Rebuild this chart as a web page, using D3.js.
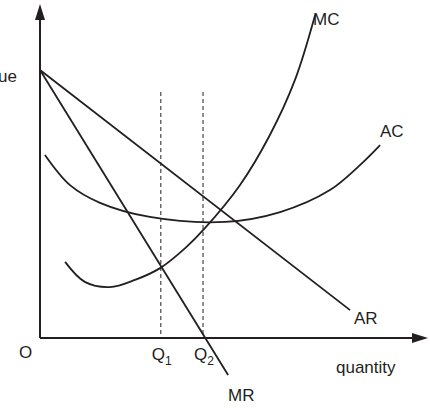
<!DOCTYPE html><html><head><script src="https://cdn.jsdelivr.net/npm/d3@7"></script>
<style>body{margin:0;background:#fff}text{font-family:Arial,"Liberation Sans",sans-serif;font-size:17px;fill:#231f20}</style></head><body>
<svg id="c" width="430" height="413"></svg>
<script>
const AR=[[0,81.7],[81.6,8.5]];
const MR=[[0,81.7],[49.5,-11.3]];
const MC=[[6.6,23.2],[11.8,17.1],[18.4,15.5],[25,17.7],[31.6,21.3],[38.2,27.4],[43.4,33.5],[52.6,46.6],[60.5,61.9],[67.1,78.7],[72.4,98.5]];
const AC=[[1.3,55.8],[7.9,46.6],[15.8,41.2],[28.9,36.9],[48.7,35.4],[63.2,38.4],[76.3,45.1],[84.2,52.7],[89.5,58.8]];
const Qs=[{x:31.8,label:"Q",sub:"1"},{x:42.9,label:"Q",sub:"2"}];
const qTop=75;
const svg=d3.select("#c");
const x=d3.scaleLinear().domain([0,100]).range([40,420]);
const y=d3.scaleLinear().domain([0,100]).range([338,10]);
const col="#231f20";
const lin=d3.line().x(d=>x(d[0])).y(d=>y(d[1]));
const cur=d3.line().x(d=>x(d[0])).y(d=>y(d[1])).curve(d3.curveCatmullRom);
// axes
svg.append("line").attr("x1",x(0)).attr("y1",y(0)).attr("x2",x(0)).attr("y2",18).attr("stroke",col).attr("stroke-width",2);
svg.append("line").attr("x1",x(0)).attr("y1",y(0)).attr("x2",414).attr("y2",y(0)).attr("stroke",col).attr("stroke-width",2);
svg.append("path").attr("d",`M${x(0)},4 L${x(0)-5},20 L${x(0)+5},20Z`).attr("fill",col);
svg.append("path").attr("d",`M428,${y(0)} L412,${y(0)-5} L412,${y(0)+5}Z`).attr("fill",col);
Qs.forEach(q=>{
 svg.append("line").attr("x1",x(q.x)).attr("x2",x(q.x)).attr("y1",y(qTop)).attr("y2",y(0)).attr("stroke",col).attr("stroke-dasharray","4,3").attr("stroke-width",1);
 const t=svg.append("text").attr("x",x(q.x)-9).attr("y",360);
 t.append("tspan").text(q.label);
 t.append("tspan").attr("dy",5).attr("font-size",12).text(q.sub);
});
[[AR,lin],[MR,lin],[MC,cur],[AC,cur]].forEach(([d,g])=>svg.append("path").attr("d",g(d)).attr("fill","none").attr("stroke",col).attr("stroke-width",1.8));
const labels=[["MC",313,25],["AC",380,137],["AR",354,324],["MR",228,401],["quantity",336,373],["O",19,358],["ue",-2,82]];
labels.forEach(l=>svg.append("text").attr("x",l[1]).attr("y",l[2]).text(l[0]));
</script></body></html>
